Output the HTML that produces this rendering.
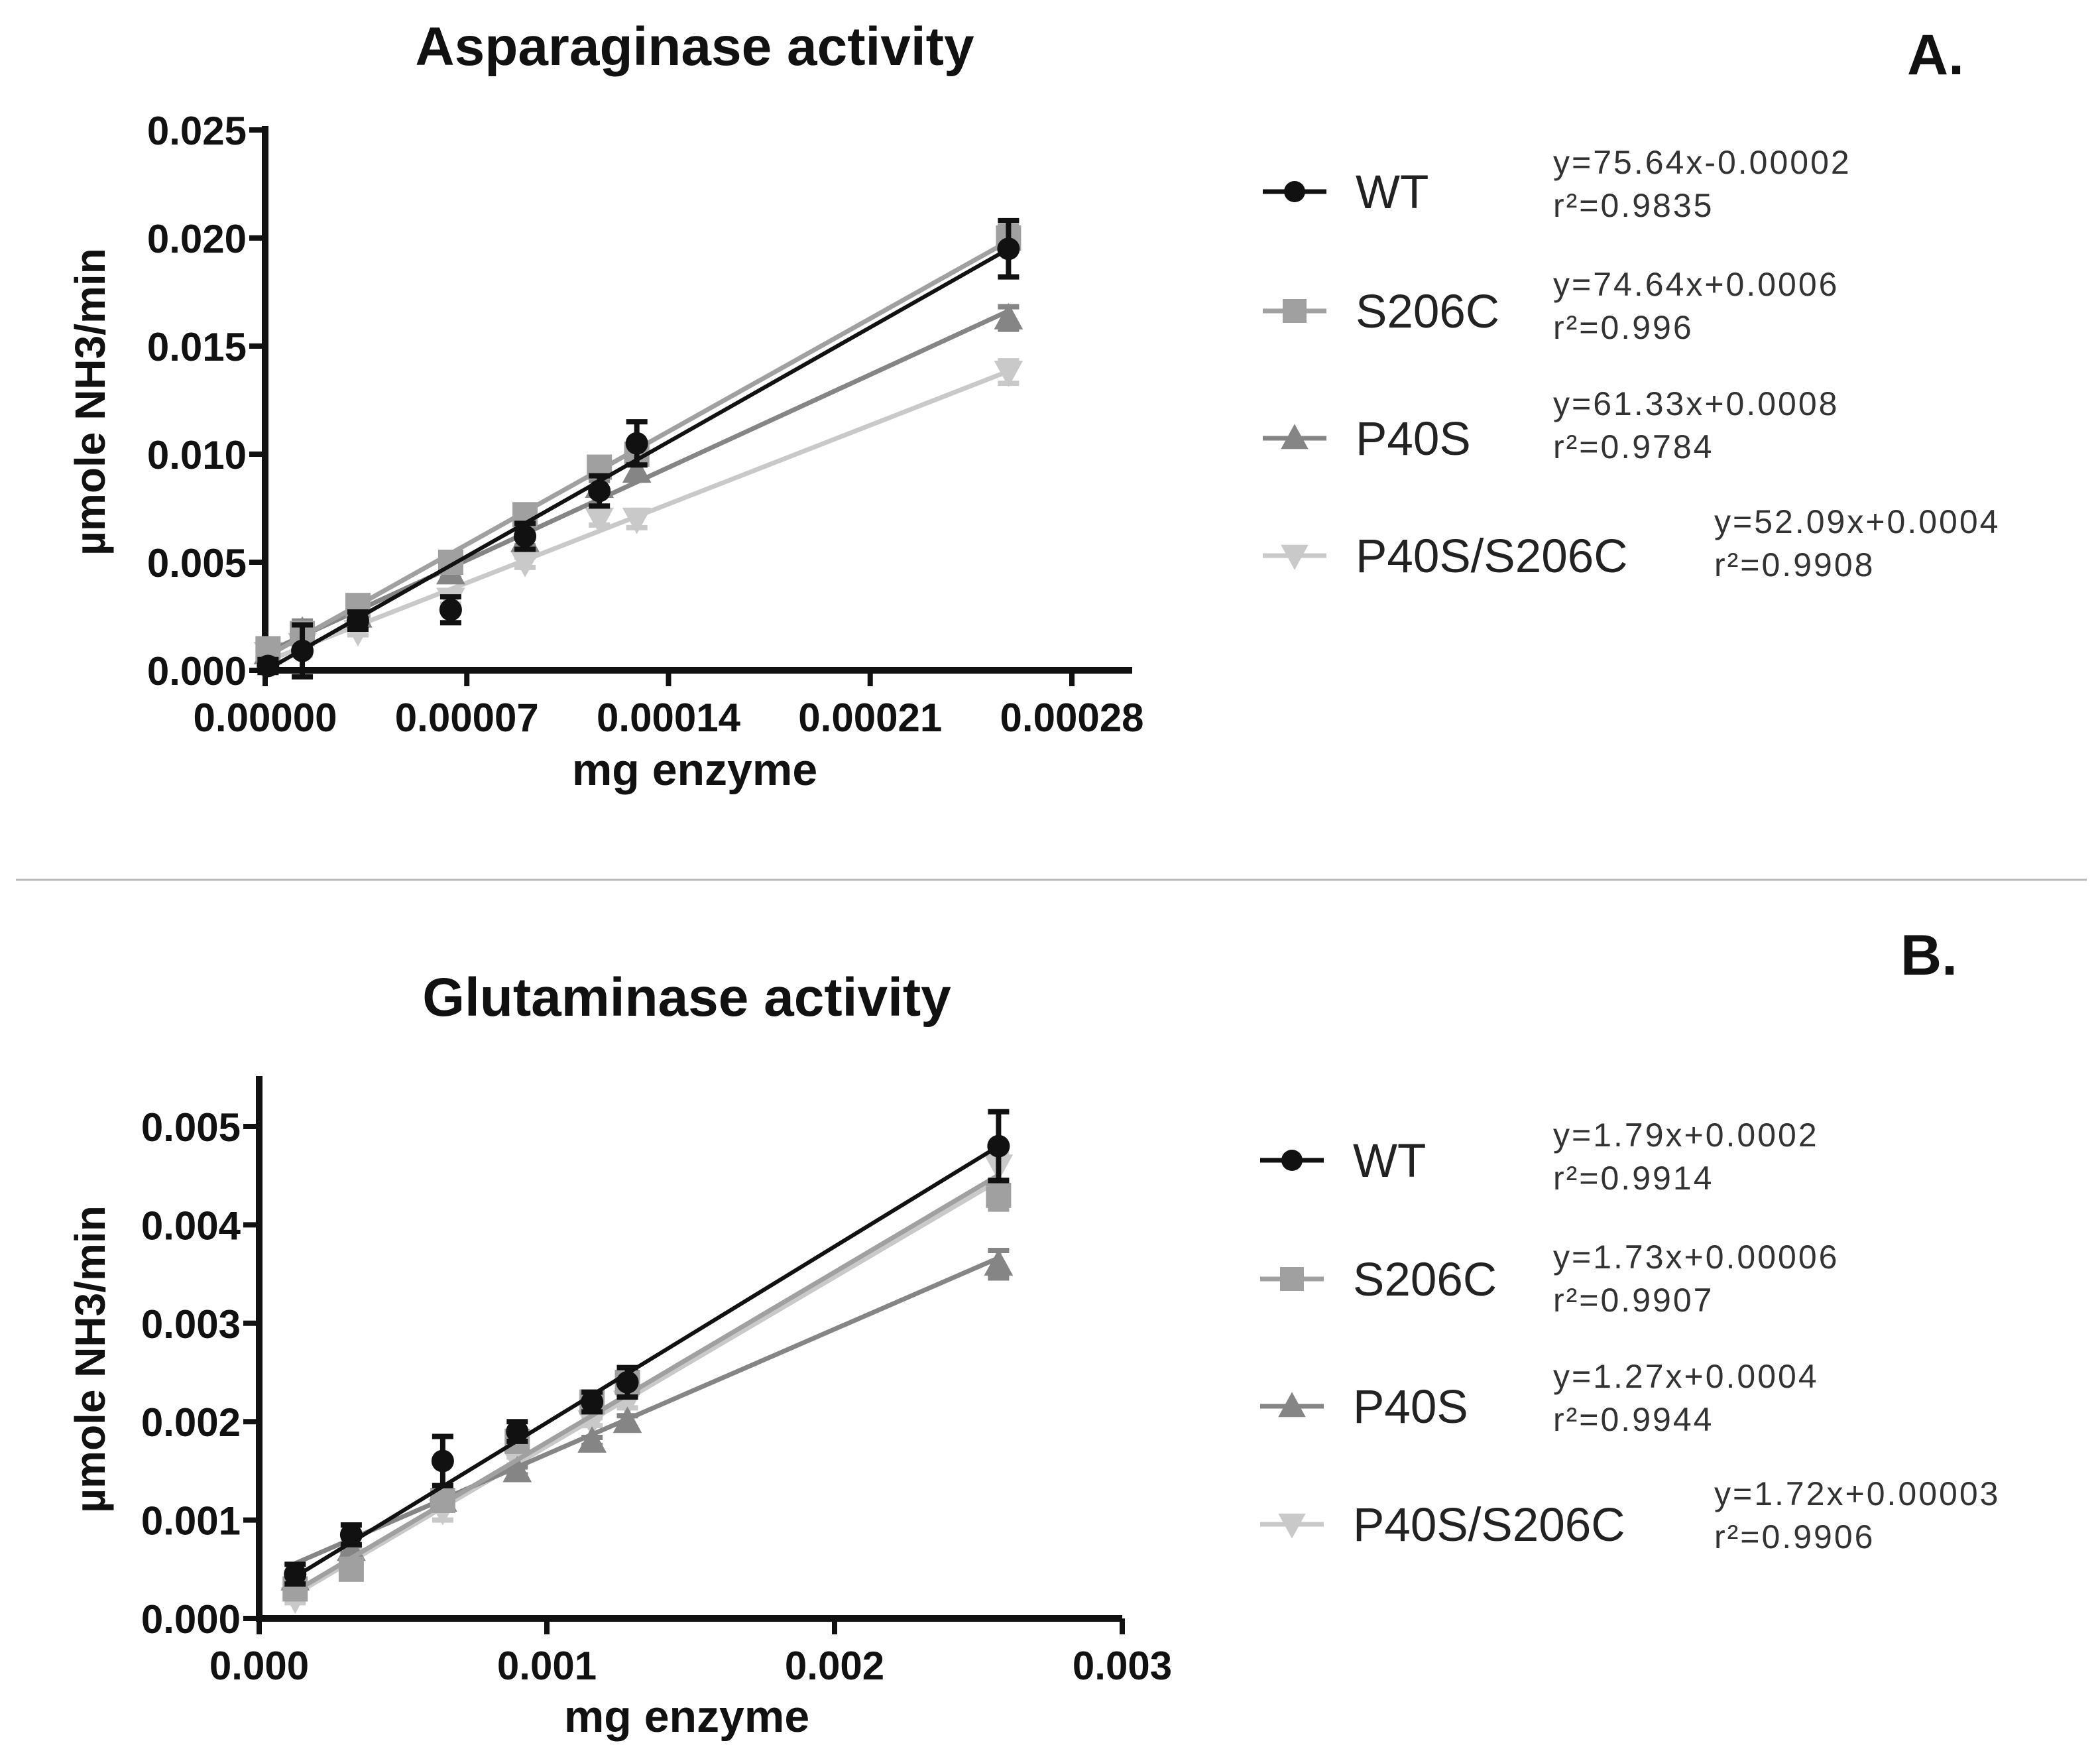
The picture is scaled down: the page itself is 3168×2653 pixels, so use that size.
<!DOCTYPE html>
<html><head><meta charset="utf-8"><style>
html,body{margin:0;padding:0;background:#fff}
svg{display:block}
text{font-family:"Liberation Sans",Arial,sans-serif}
</style></head><body>
<svg id="svg" width="3168" height="2653" viewBox="0 0 3168 2653" xmlns="http://www.w3.org/2000/svg">
<line x1="24" y1="1327" x2="3148" y2="1327" stroke="#bbb" stroke-width="3"/>
<text x="1048" y="98" font-size="82" font-weight="bold" text-anchor="middle" fill="#111">Asparaginase activity</text>
<text x="2920" y="112" font-size="86" font-weight="bold" text-anchor="middle" fill="#111">A.</text>
<text x="1048" y="1184" font-size="68" font-weight="bold" text-anchor="middle" fill="#111">mg enzyme</text>
<text transform="translate(158,606) rotate(-90)" font-size="64" font-weight="bold" text-anchor="middle" fill="#111">µmole NH3/min</text>
<text x="1036" y="1532" font-size="82" font-weight="bold" text-anchor="middle" fill="#111">Glutaminase activity</text>
<text x="2910" y="1470" font-size="86" font-weight="bold" text-anchor="middle" fill="#111">B.</text>
<text x="1036" y="2612" font-size="68" font-weight="bold" text-anchor="middle" fill="#111">mg enzyme</text>
<text transform="translate(158,2050) rotate(-90)" font-size="64" font-weight="bold" text-anchor="middle" fill="#111">µmole NH3/min</text>
<g id="ga"></g><g id="gb"></g>
</svg>
<script>
// ---------- Chart A data ----------
const seriesNames = ["WT","S206C","P40S","P40S/S206C"];
const aX = [0.000001,0.0000129,0.0000322,0.0000644,0.0000902,0.000116,0.000129,0.000258];
const aWT = [0.0002,0.0009,0.0023,0.0028,0.0062,0.0083,0.0105,0.0195];
const aS206C = [0.0010,0.0017,0.0030,0.0050,0.0072,0.0094,0.0100,0.0200];
const aP40S = [0.0008,0.0018,0.0025,0.0045,0.0060,0.0085,0.0092,0.0163];
const aP40SS206C = [0.0008,0.0012,0.0018,0.0033,0.0050,0.0070,0.0070,0.0138];
const aErr = [0.0003,0.0012,0.0004,0.0006,0.0006,0.0007,0.0010,0.0013];
const aSlopes = [75.64,74.64,61.33,52.09];
const aIntercepts = [-0.00002,0.0006,0.0008,0.0004];
const aEqs = ["y=75.64x-0.00002","y=74.64x+0.0006","y=61.33x+0.0008","y=52.09x+0.0004"];
const aR2 = ["r²=0.9835","r²=0.996","r²=0.9784","r²=0.9908"];
const aYTicks = [0,0.005,0.010,0.015,0.020,0.025];
const aYTickLabels = ["0.000","0.005","0.010","0.015","0.020","0.025"];
const aXTicks = [0,0.00007,0.00014,0.00021,0.00028];
const aXTickLabels = ["0.00000","0.00007","0.00014","0.00021","0.00028"];
// ---------- Chart B data ----------
const bX = [0.000125,0.00032,0.000638,0.000897,0.001157,0.00128,0.00257];
const bWT = [0.00045,0.00085,0.0016,0.0019,0.0022,0.0024,0.0048];
const bS206C = [0.0003,0.0005,0.0012,0.0018,0.0022,0.0024,0.0043];
const bP40S = [0.0004,0.0007,0.0012,0.0015,0.0018,0.0020,0.0036];
const bP40SS206C = [0.0002,0.0006,0.0011,0.0016,0.0020,0.0022,0.0046];
const bErr = [0.0001,0.0001,0.00025,0.0001,0.0001,0.00015,0.00035];
const bSlopes = [1.79,1.73,1.27,1.72];
const bIntercepts = [0.0002,0.00006,0.0004,0.00003];
const bEqs = ["y=1.79x+0.0002","y=1.73x+0.00006","y=1.27x+0.0004","y=1.72x+0.00003"];
const bR2 = ["r²=0.9914","r²=0.9907","r²=0.9944","r²=0.9906"];
const bYTicks = [0,0.001,0.002,0.003,0.004,0.005];
const bYTickLabels = ["0.000","0.001","0.002","0.003","0.004","0.005"];
const bXTicks = [0,0.001,0.002,0.003];
const bXTickLabels = ["0.000","0.001","0.002","0.003"];

const NS="http://www.w3.org/2000/svg";
const colors=["#111111","#a0a0a0","#858585","#c9c9c9"];
const markers=["circle","square","tri","itri"];
function mk(tag,attrs,parent){const e=document.createElementNS(NS,tag);for(const k in attrs)e.setAttribute(k,attrs[k]);parent.appendChild(e);return e;}
function marker(g,type,cx,cy,s,col){
  let e;
  if(type==="circle")e=mk("circle",{cx:cx,cy:cy,r:s,fill:col},g);
  else if(type==="square")e=mk("rect",{x:cx-s,y:cy-s,width:2*s,height:2*s,fill:col},g);
  else if(type==="tri")e=mk("polygon",{points:`${cx},${cy-s*1.2} ${cx-s*1.15},${cy+s*0.9} ${cx+s*1.15},${cy+s*0.9}`,fill:col},g);
  else e=mk("polygon",{points:`${cx},${cy+s*1.2} ${cx-s*1.15},${cy-s*0.9} ${cx+s*1.15},${cy-s*0.9}`,fill:col},g);
  return e;
}
function drawChart(g,cfg){
  const sx=v=>cfg.x0+(v-cfg.xmin)/(cfg.xmax-cfg.xmin)*(cfg.x1-cfg.x0);
  const sy=v=>cfg.y0-(v-cfg.ymin)/(cfg.ymax-cfg.ymin)*(cfg.y0-cfg.y1);
  const ya=mk("line",{x1:cfg.x0,y1:cfg.axTop,x2:cfg.x0,y2:cfg.y0+5,stroke:"#111","stroke-width":10},g);
  
  
  const xa=mk("line",{x1:cfg.x0-5,y1:cfg.y0,x2:cfg.axRight,y2:cfg.y0,stroke:"#111","stroke-width":10},g);
  
  
  cfg.yTicks.forEach((t,i)=>{
    const y=sy(t);
    const tk=mk("line",{x1:cfg.x0-24,y1:y,x2:cfg.x0,y2:y,stroke:"#111","stroke-width":8},g);
    
    
    const tl=mk("text",{x:cfg.x0-28,y:y+22,"font-size":60,"font-weight":"bold","text-anchor":"end",fill:"#111"},g);
    tl.textContent=cfg.yTickLabels[i];
    
    
  });
  cfg.xTicks.forEach((t,i)=>{
    const x=sx(t);
    const tk=mk("line",{x1:x,y1:cfg.y0,x2:x,y2:cfg.y0+24,stroke:"#111","stroke-width":8},g);
    
    
    const tl=mk("text",{x:x,y:cfg.y0+92,"font-size":60,"font-weight":"bold","text-anchor":"middle",fill:"#111"},g);
    tl.textContent=cfg.xTickLabels[i];
    
    
  });
  [3,2,1,0].forEach(si=>{
    const ys=cfg.series[si], col=colors[si];
    const sg=mk("g",{},g);
    
    
    ys.forEach((v,i)=>{
      const x=sx(cfg.xs[i]), e=cfg.err[i]*(si===0?1:0.4);
      const eb=mk("path",{d:`M${x},${sy(v+e)}V${sy(v-e)}M${x-16},${sy(v+e)}h32M${x-16},${sy(v-e)}h32`,stroke:col,"stroke-width":8,fill:"none"},sg);
      
      
      const m=marker(sg,markers[si],x,sy(v),si===0?17:19,col);
      
      
    });
    const xa0=cfg.xs[0], xa1=cfg.xs[cfg.xs.length-1];
    const fl=mk("line",{x1:sx(xa0),y1:sy(cfg.slopes[si]*xa0+cfg.ints[si]),x2:sx(xa1),y2:sy(cfg.slopes[si]*xa1+cfg.ints[si]),stroke:col,"stroke-width":si===0?6:7},sg);
    
    
  });
  cfg.legY.forEach((ly,si)=>{
    const lg=mk("g",{},g);
    
    
    mk("line",{x1:cfg.legX,y1:ly,x2:cfg.legX+96,y2:ly,stroke:colors[si],"stroke-width":7},lg);
    marker(lg,markers[si],cfg.legX+48,ly,si===0?16:18,colors[si]);
    const t=mk("text",{x:cfg.legX+140,y:ly+25,"font-size":71,fill:"#222"},lg);
    t.textContent=seriesNames[si];
    const ex=si===3?2586:2343, ey=cfg.eqY[si];
    const e1=mk("text",{x:ex,y:ey,"font-size":50,fill:"#333","letter-spacing":"3"},lg);
    e1.textContent=cfg.eqs[si];
    
    
    const e2=mk("text",{x:ex,y:ey+65,"font-size":50,fill:"#333","letter-spacing":"3"},lg);
    e2.textContent=cfg.r2[si];
    
    
  });
}
drawChart(document.getElementById("ga"),{x0:400,x1:1617,xmin:0,xmax:0.00028,y0:1011,y1:196,ymin:0,ymax:0.025,axTop:190,axRight:1708,
  xs:aX,series:[aWT,aS206C,aP40S,aP40SS206C],err:aErr,slopes:aSlopes,ints:aIntercepts,
  yTicks:aYTicks,yTickLabels:aYTickLabels,xTicks:aXTicks,xTickLabels:aXTickLabels,
  legX:1905,legY:[289,469,661,838],eqY:[262,446,626,804],eqs:aEqs,r2:aR2});
drawChart(document.getElementById("gb"),{x0:391,x1:1693,xmin:0,xmax:0.003,y0:2441,y1:1699,ymin:0,ymax:0.005,axTop:1623,axRight:1693,
  xs:bX,series:[bWT,bS206C,bP40S,bP40SS206C],err:bErr,slopes:bSlopes,ints:bIntercepts,
  yTicks:bYTicks,yTickLabels:bYTickLabels,xTicks:bXTicks,xTickLabels:bXTickLabels,
  legX:1901,legY:[1750,1929,2121,2299],eqY:[1729,1913,2093,2270],eqs:bEqs,r2:bR2});
document.getElementById("ga");
document.getElementById("ga");
document.getElementById("gb");
document.getElementById("gb");
</script>
</body></html>
